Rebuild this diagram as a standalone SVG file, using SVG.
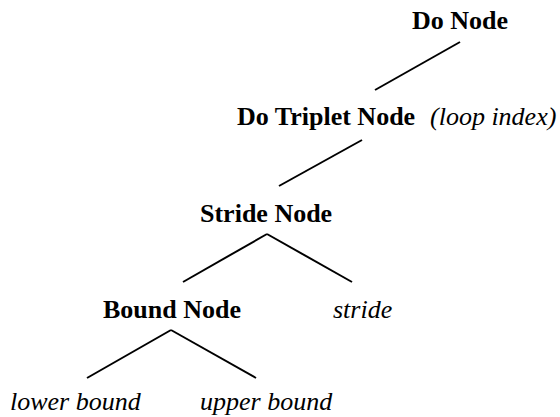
<svg xmlns="http://www.w3.org/2000/svg" width="560" height="417" viewBox="0 0 560 417">
<style>
.b{font-family:"Liberation Serif","Times New Roman",serif;font-size:26px;font-weight:bold;fill:#000}
.i{font-family:"Liberation Serif","Times New Roman",serif;font-size:26px;font-style:italic;fill:#000}
.c line{stroke:#000;stroke-width:2;stroke-linecap:butt}
</style>
<rect width="560" height="417" fill="#fff"/>
<g class="c" id="connectors">
<line x1="460" y1="42" x2="375" y2="90"/>
<line x1="362" y1="140" x2="279" y2="186"/>
<line x1="267" y1="234" x2="183" y2="282"/>
<line x1="267" y1="234" x2="352" y2="282"/>
<line x1="171" y1="330" x2="87" y2="378"/>
<line x1="171" y1="330" x2="256" y2="378"/>
</g>
<g id="do-node"><text class="b" x="412" y="29">Do Node</text></g>
<g id="do-triplet-node"><text class="b" x="237" y="125">Do Triplet Node</text><text class="i" x="430" y="125">(loop index)</text></g>
<g id="stride-node"><text class="b" x="200" y="222">Stride Node</text></g>
<g id="bound-node"><text class="b" x="103" y="318">Bound Node</text></g>
<g id="stride"><text class="i" x="333" y="318">stride</text></g>
<g id="lower-bound"><text class="i" x="10" y="410">lower bound</text></g>
<g id="upper-bound"><text class="i" x="200" y="410">upper bound</text></g>
</svg>
